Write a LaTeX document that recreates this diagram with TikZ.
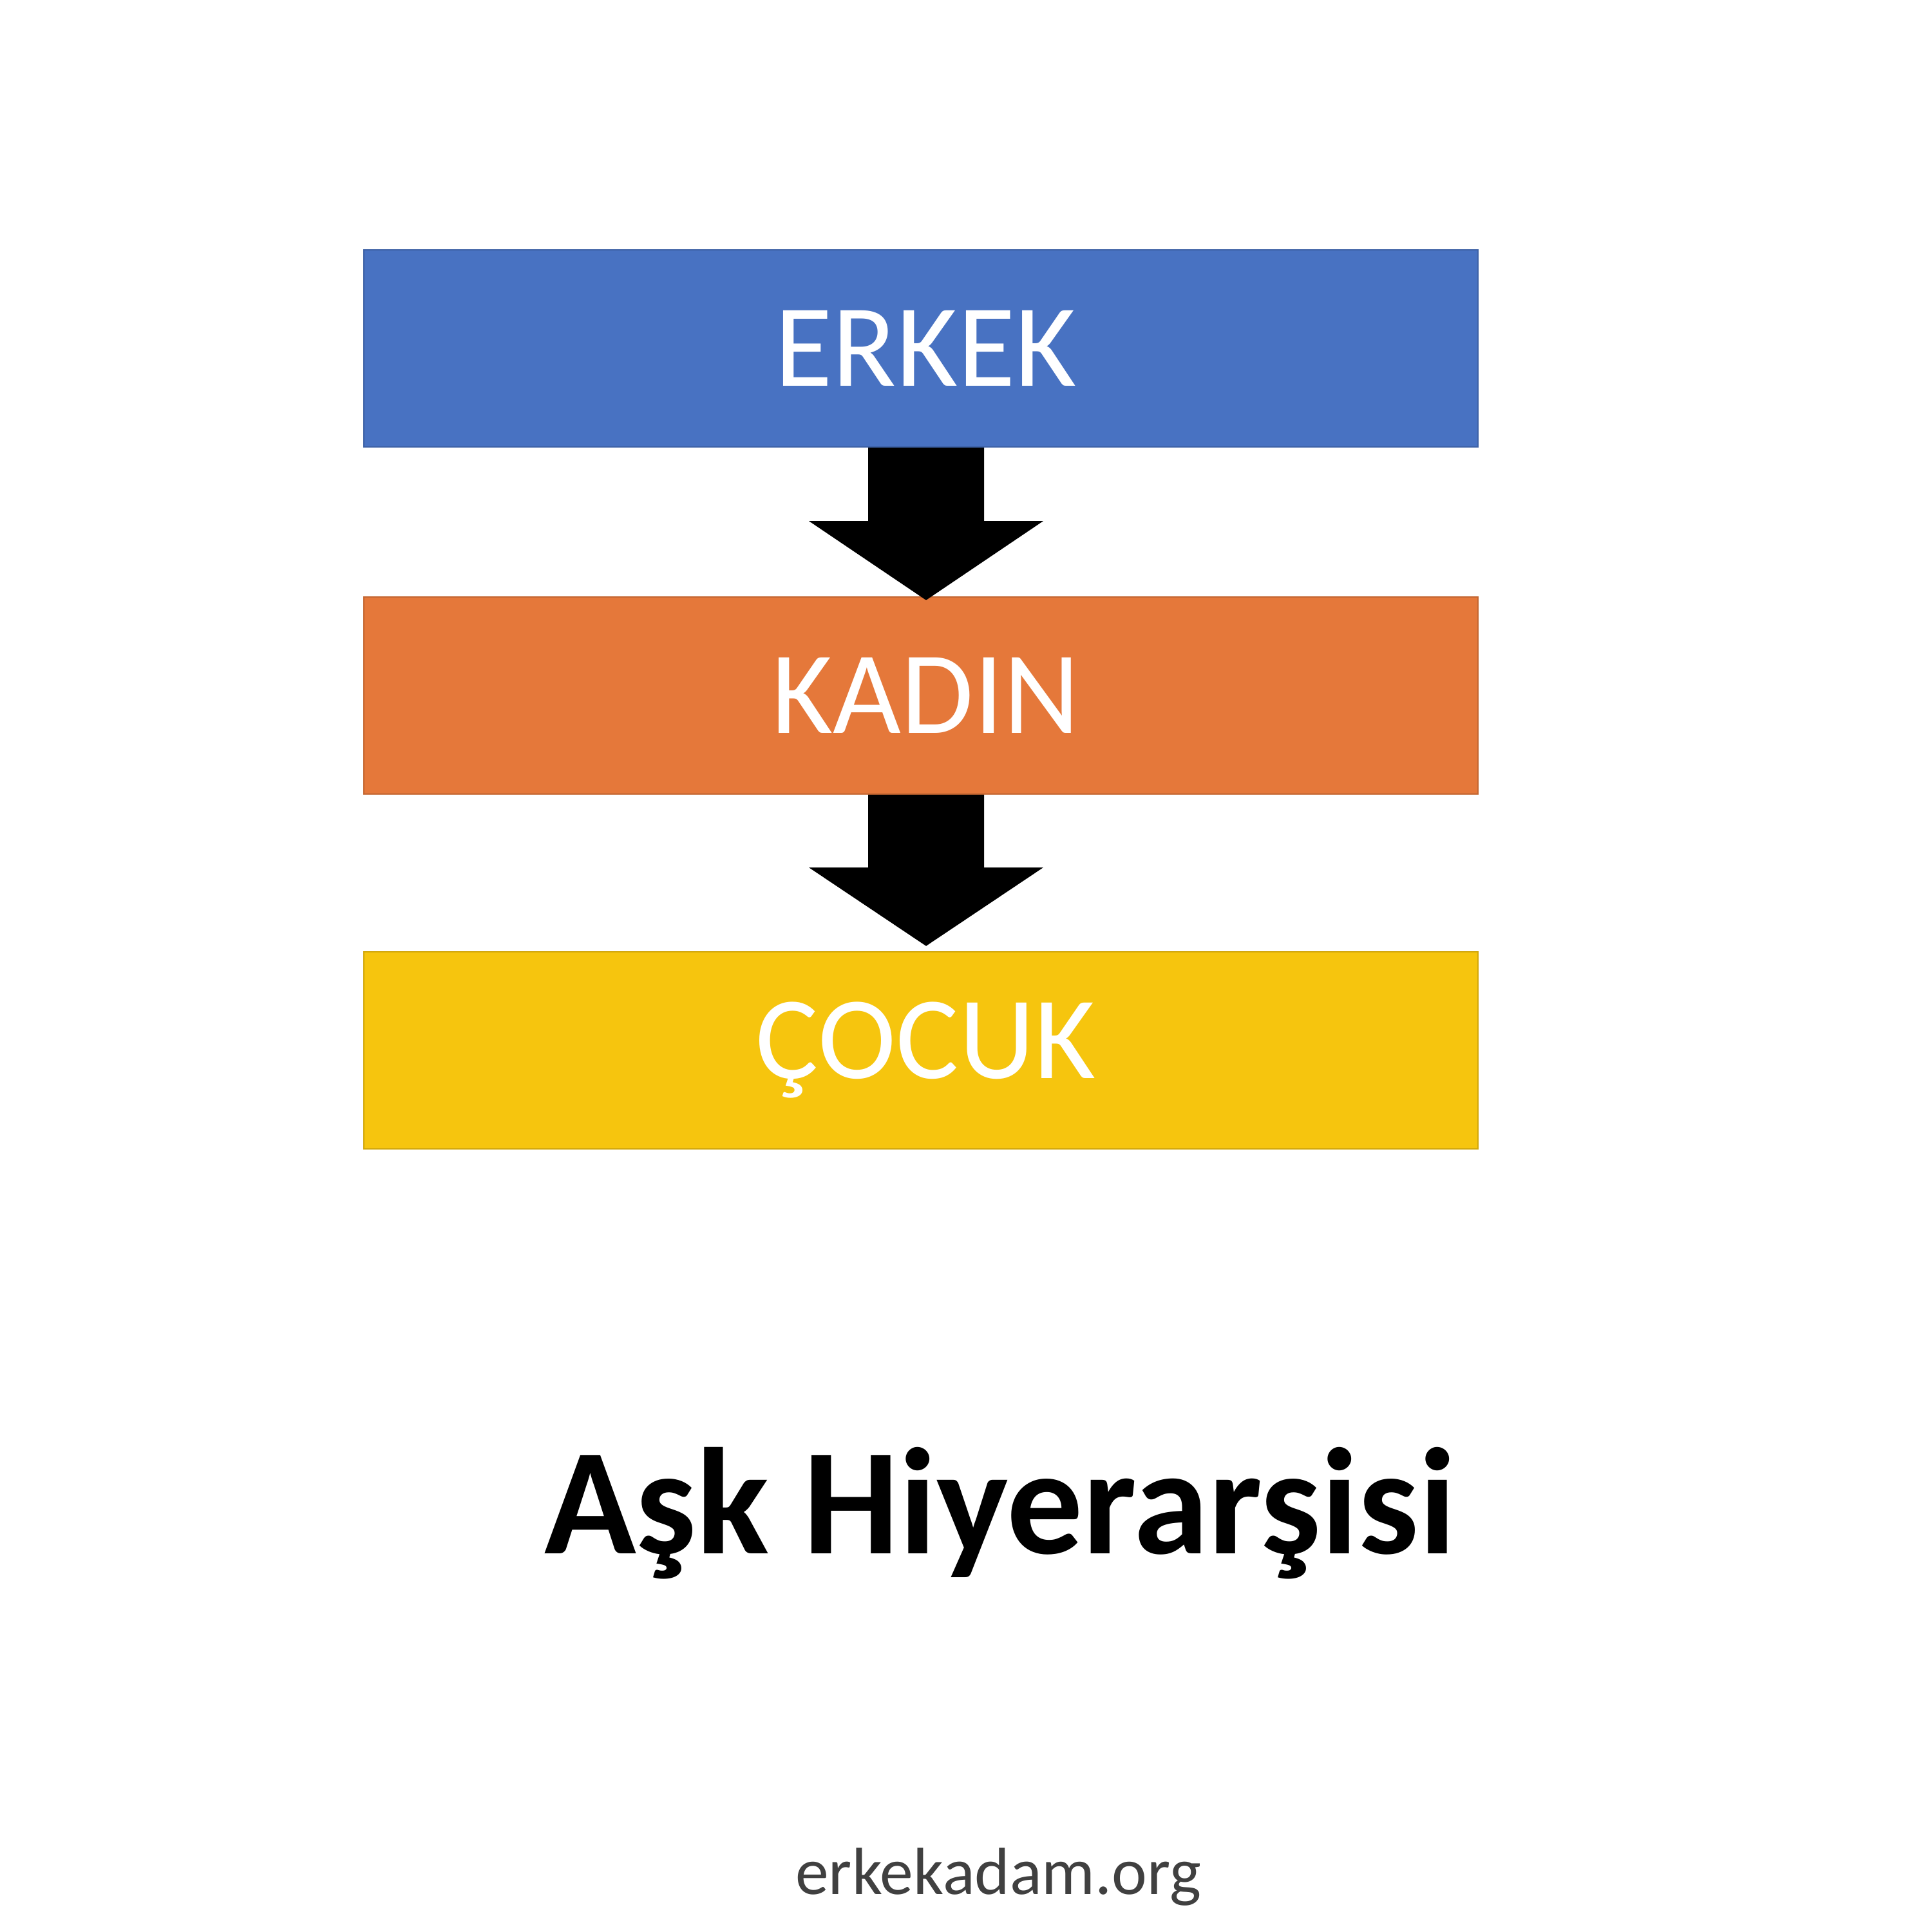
\documentclass[tikz,border=0pt]{standalone}
\usepackage{fontspec}
\setmainfont{Carlito}
\usetikzlibrary{calc}
\definecolor{boxblue}{HTML}{4872C2}
\definecolor{boxorange}{HTML}{E5783A}
\definecolor{boxyellow}{HTML}{F6C50E}
\definecolor{sitegray}{HTML}{404040}
\tikzset{
  levelbox/.style={draw=#1!85!black, line width=0.6pt, fill=#1, minimum width=17.3cm, minimum height=3.06cm, inner sep=0pt, text=white, font=\addfontfeatures{Kerning=Off}\fontsize{52}{60}\selectfont},
  blockarrow/.style={fill=black, draw=none}
}
\begin{document}
\begin{tikzpicture}
\useasboundingbox (0,0) rectangle (30,30);
\fill[white] (0,0) rectangle (30,30);
\node[levelbox=boxblue] (erkek) at (14.3,24.59) {\hspace*{0.15cm}\raisebox{-0.1cm}{ERKEK}};
\node[levelbox=boxorange] (kadin) at (14.3,19.20) {\hspace*{0.15cm}KADIN};
\node[levelbox=boxyellow] (cocuk) at (14.3,13.69) {\hspace*{0.15cm}ÇOCUK};
% arrows
\fill[blockarrow] ($(erkek.south)+(-0.82,0)$) -- ($(erkek.south)+(0.98,0)$) -- ($(erkek.south)+(0.98,-1.14)$) -- ($(erkek.south)+(1.9,-1.14)$) -- ($(kadin.north)+(0.08,-0.06)$) -- ($(erkek.south)+(-1.74,-1.14)$) -- ($(erkek.south)+(-0.82,-1.14)$) -- cycle;
\fill[blockarrow] ($(kadin.south)+(-0.82,0)$) -- ($(kadin.south)+(0.98,0)$) -- ($(kadin.south)+(0.98,-1.13)$) -- ($(kadin.south)+(1.9,-1.13)$) -- ($(cocuk.north)+(0.08,0.08)$) -- ($(kadin.south)+(-1.74,-1.13)$) -- ($(kadin.south)+(-0.82,-1.13)$) -- cycle;
\node[anchor=base, inner sep=0pt, font=\bfseries\fontsize{67}{77}\selectfont] (title) at (15.53,5.87) {Aşk Hiyerarşisi};
\node[anchor=base, inner sep=0pt, text=sitegray, font=\fontsize{29.5}{34}\selectfont] (site) at (15.5,0.58) {erkekadam.org};
\end{tikzpicture}
\end{document}
